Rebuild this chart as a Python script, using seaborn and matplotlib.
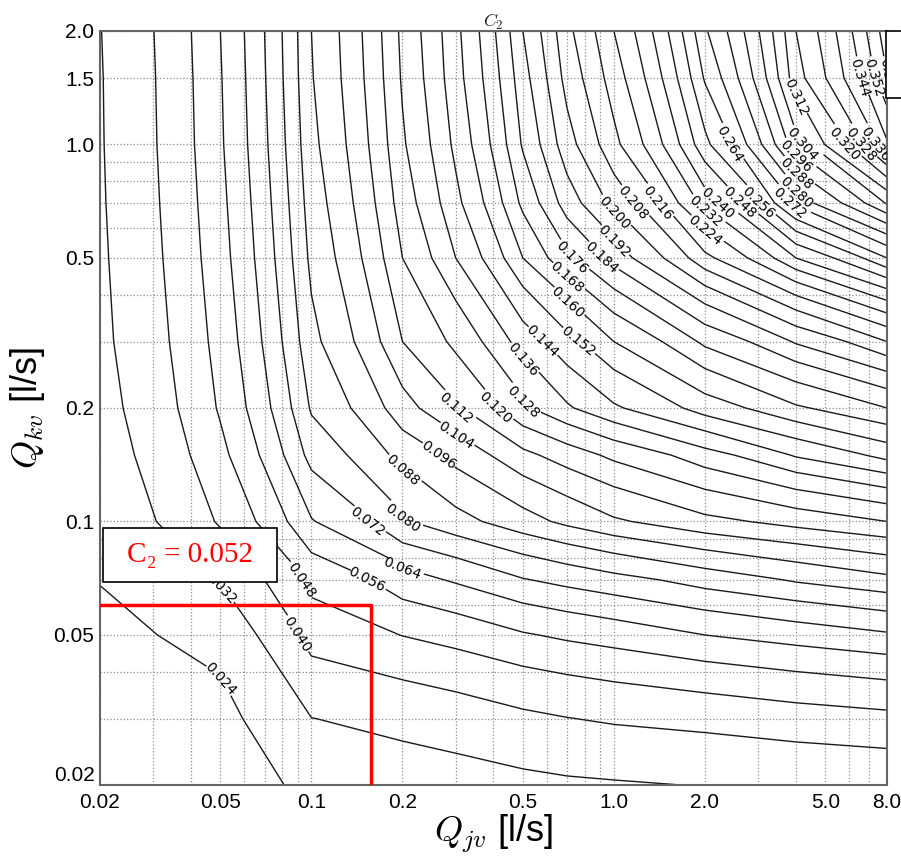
import numpy as np
import matplotlib
matplotlib.use('Agg')
import matplotlib.pyplot as plt
import seaborn as sns
from matplotlib.patches import Rectangle

# grid of flows [l/s] and C2 at these nodes
qjv = [0.02, 0.05, 0.1, 0.2, 0.3, 0.5, 0.7, 1.0, 2.0, 4.0, 8.0]
qkv = [0.02, 0.03, 0.05, 0.07, 0.1, 0.15, 0.2, 0.3, 0.5, 0.7, 1.0, 1.5, 2.0]
c2 = [
    [0.0185, 0.0215, 0.0255, 0.0280, 0.0290, 0.0303, 0.0310, 0.0314, 0.0323, 0.0332, 0.0340],
    [0.0205, 0.0222, 0.0319, 0.0345, 0.0360, 0.0385, 0.0398, 0.0410, 0.0425, 0.0445, 0.0460],
    [0.0225, 0.0266, 0.0435, 0.0482, 0.0510, 0.0553, 0.0575, 0.0595, 0.0640, 0.0675, 0.0710],
    [0.0242, 0.0330, 0.0505, 0.0610, 0.0650, 0.0715, 0.0745, 0.0775, 0.0835, 0.0890, 0.0940],
    [0.0270, 0.0410, 0.0635, 0.0795, 0.0855, 0.0930, 0.0980, 0.1030, 0.1100, 0.1150, 0.1200],
    [0.0285, 0.0460, 0.0750, 0.0910, 0.0990, 0.1100, 0.1160, 0.1220, 0.1330, 0.1450, 0.1550],
    [0.0295, 0.0490, 0.0810, 0.1010, 0.1120, 0.1270, 0.1350, 0.1430, 0.1560, 0.1670, 0.1760],
    [0.0305, 0.0510, 0.0860, 0.1120, 0.1220, 0.1400, 0.1500, 0.1600, 0.1780, 0.1930, 0.2080],
    [0.0310, 0.0530, 0.0900, 0.1200, 0.1360, 0.1600, 0.1750, 0.1880, 0.2140, 0.2400, 0.2640],
    [0.0313, 0.0540, 0.0920, 0.1240, 0.1420, 0.1700, 0.1880, 0.2030, 0.2360, 0.2760, 0.3050],
    [0.0315, 0.0550, 0.0940, 0.1270, 0.1460, 0.1770, 0.1970, 0.2140, 0.2540, 0.3020, 0.3430],
    [0.0316, 0.0555, 0.0955, 0.1290, 0.1490, 0.1810, 0.2030, 0.2200, 0.2650, 0.3170, 0.3600],
    [0.0318, 0.0560, 0.0960, 0.1300, 0.1500, 0.1840, 0.2060, 0.2240, 0.2710, 0.3200, 0.3650],
]
levels = np.round(np.arange(0.016, 0.37, 0.008), 3)

x_major = [0.02, 0.05, 0.1, 0.2, 0.5, 1.0, 2.0, 5.0, 8.0]
x_labels = ['0.02', '0.05', '0.1', '0.2', '0.5', '1.0', '2.0', '5.0', '8.0']
x_minor = [0.03, 0.04, 0.06, 0.07, 0.08, 0.09, 0.3, 0.4, 0.6, 0.7, 0.8, 0.9, 3, 4, 6, 7]
y_major = [0.02, 0.05, 0.1, 0.2, 0.5, 1.0, 1.5, 2.0]
y_labels = ['0.02', '0.05', '0.1', '0.2', '0.5', '1.0', '1.5', '2.0']
y_minor = [0.03, 0.04, 0.06, 0.07, 0.08, 0.09, 0.3, 0.4, 0.6, 0.7, 0.8, 0.9]

# chosen design point
pick_qjv = 0.157
pick_qkv = 0.06
pick_text = 'C₂ = 0.052'

sns.set_style('white')
plt.rcParams['font.family'] = ['Liberation Sans', 'DejaVu Sans']
plt.rcParams['mathtext.fontset'] = 'cm'

fig = plt.figure(figsize=(9.01, 8.61), dpi=100)
ax = fig.add_axes([100/901, 1-785/861, 787/901, 754/861])
ax.set_xscale('log')
ax.set_yscale('log')

X, Y = np.meshgrid(qjv, qkv)
cs = ax.contour(X, Y, np.array(c2), levels=levels, colors='#1a1a1a', linewidths=1.0)
lbls = ax.clabel(cs, fmt='%.3f', fontsize=10, inline=True, inline_spacing=3, colors='black')
for t in lbls:
    t.set_family('DejaVu Sans')

ax.set_xlim(qjv[0], qjv[-1])
ax.set_ylim(qkv[0], qkv[-1])
ax.set_xticks(x_major)
ax.set_xticklabels(x_labels)
ax.set_xticks(x_minor, minor=True)
ax.set_yticks(y_major)
ax.set_yticklabels(y_labels)
ax.set_yticks(y_minor, minor=True)
ax.tick_params(which='both', length=0, labelsize=15, pad=4, labelcolor='black')
ax.tick_params(axis='x', pad=6)
# corner label sits a little above the x-axis labels, as in the original
ax.get_yticklabels()[0].set_verticalalignment('bottom')
ax.grid(which='both', linestyle=':', color='#8c8c8c', linewidth=0.9)
for s in ax.spines.values():
    s.set_color('#666666')
    s.set_linewidth(1.5)

ax.set_title('$C_2$', fontsize=13, pad=3)
ax.set_xlabel('$Q_{jv}$ [l/s]', fontsize=26, labelpad=0, color='black')
ax.set_ylabel('$Q_{kv}$ [l/s]', fontsize=26, labelpad=5, color='black')

ax.plot([qjv[0], pick_qjv, pick_qjv], [pick_qkv, pick_qkv, qkv[0]], color='red', lw=2.5, zorder=5)

ax.add_patch(Rectangle((3/787, 203/754), 174/787, 54/754, transform=ax.transAxes,
                       facecolor='white', edgecolor='black', lw=1.2, zorder=6))
ax.text(90/787, 230/754, pick_text, transform=ax.transAxes, ha='center', va='center',
        color='red', fontsize=21, family=['Liberation Serif', 'DejaVu Serif'], zorder=7)

fig.patches.append(Rectangle((886/901, 1-98/861), 0.05, 67/861, transform=fig.transFigure,
                             facecolor='white', edgecolor='black', lw=1.2))

fig.savefig('out.png', dpi=100)
